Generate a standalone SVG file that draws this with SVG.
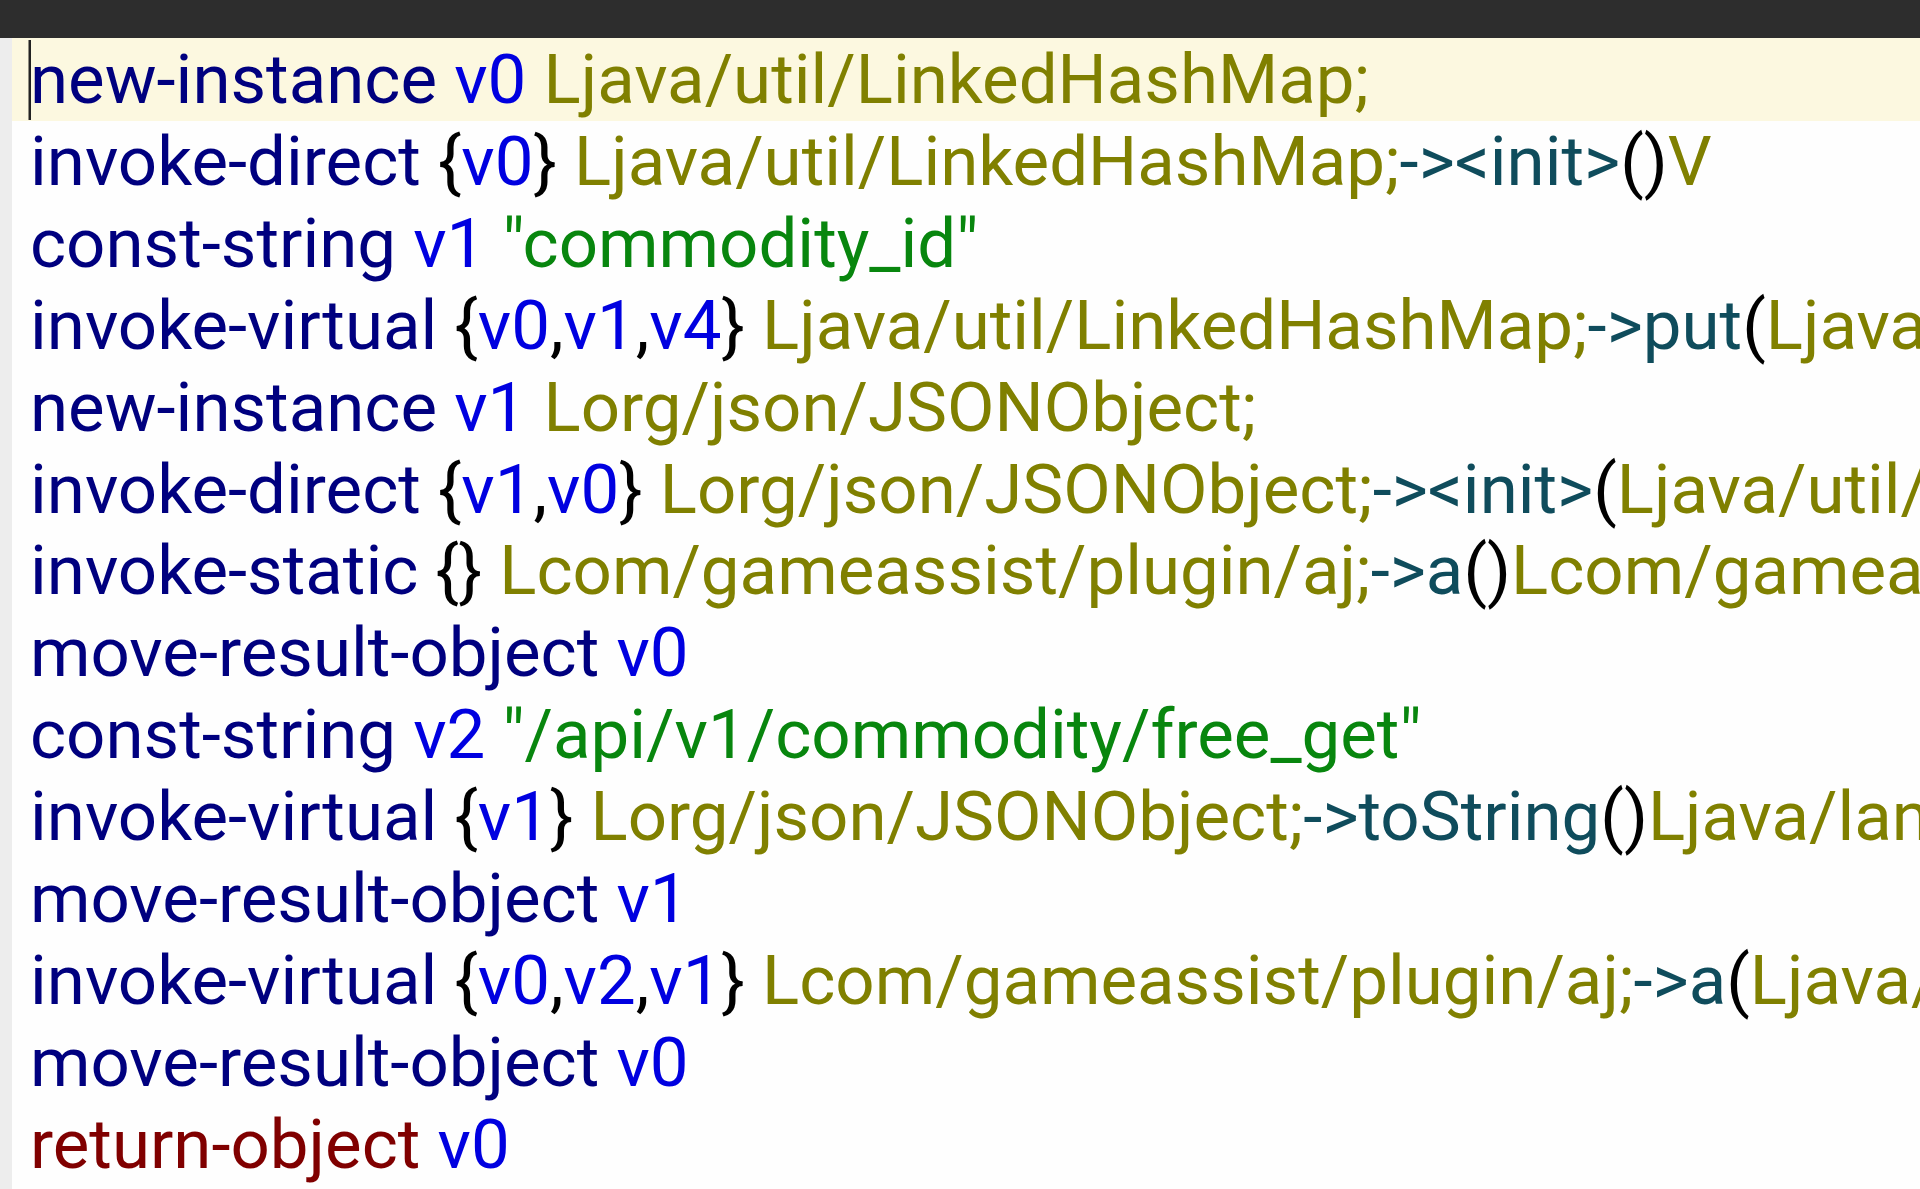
<svg xmlns="http://www.w3.org/2000/svg" width="1920" height="1189" viewBox="0 0 1920 1189">
<style>
text{font-family:Roboto,"Liberation Sans",sans-serif;font-size:69px;white-space:pre}
.k{fill:#00007f}
.r{fill:#0000e0}
.b{fill:#000000}
.c{fill:#808000}
.m{fill:#0f4c5c}
.s{fill:#08860e}
.x{fill:#800000}
</style>
<rect x="0" y="0" width="1920" height="1189" fill="#fefefe"/>
<rect x="0" y="0" width="1920" height="38" fill="#2d2d2d"/>
<rect x="0" y="38" width="12" height="1151" fill="#ededed"/>
<rect x="12" y="38" width="1908" height="83" fill="#fcf8e0"/>
<rect x="28.5" y="40" width="2.5" height="80" fill="#222222"/>
<g transform="translate(30 0)">
<text id="l1" x="0" y="103"><tspan class="k">new-instance</tspan> <tspan class="r">v0</tspan> <tspan class="c">Ljava/util/LinkedHashMap;</tspan></text>
<text id="l2" x="0" y="184.9"><tspan class="k">invoke-direct</tspan> <tspan class="b">{</tspan><tspan class="r">v0</tspan><tspan class="b">}</tspan> <tspan class="c">Ljava/util/LinkedHashMap;</tspan><tspan class="m">-&gt;&lt;init&gt;</tspan><tspan class="b">()</tspan><tspan class="c">V</tspan></text>
<text id="l3" x="0" y="266.8"><tspan class="k">const-string</tspan> <tspan class="r">v1</tspan> <tspan class="s">"commodity_id"</tspan></text>
<text id="l4" x="0" y="348.7"><tspan class="k">invoke-virtual</tspan> <tspan class="b">{</tspan><tspan class="r">v0</tspan><tspan class="b">,</tspan><tspan class="r">v1</tspan><tspan class="b">,</tspan><tspan class="r">v4</tspan><tspan class="b">}</tspan> <tspan class="c">Ljava/util/LinkedHashMap;</tspan><tspan class="m">-&gt;put</tspan><tspan class="b">(</tspan><tspan class="c">Ljava</tspan></text>
<text id="l5" x="0" y="430.6"><tspan class="k">new-instance</tspan> <tspan class="r">v1</tspan> <tspan class="c">Lorg/json/JSONObject;</tspan></text>
<text id="l6" x="0" y="512.5"><tspan class="k">invoke-direct</tspan> <tspan class="b">{</tspan><tspan class="r">v1</tspan><tspan class="b">,</tspan><tspan class="r">v0</tspan><tspan class="b">}</tspan> <tspan class="c">Lorg/json/JSONObject;</tspan><tspan class="m">-&gt;&lt;init&gt;</tspan><tspan class="b">(</tspan><tspan class="c">Ljava/util/</tspan></text>
<text id="l7" x="0" y="594.4"><tspan class="k">invoke-static</tspan> <tspan class="b">{}</tspan> <tspan class="c">Lcom/gameassist/plugin/aj;</tspan><tspan class="m">-&gt;a</tspan><tspan class="b">()</tspan><tspan class="c">Lcom/gamea</tspan></text>
<text id="l8" x="0" y="676.3"><tspan class="k">move-result-object</tspan> <tspan class="r">v0</tspan></text>
<text id="l9" x="0" y="758.2"><tspan class="k">const-string</tspan> <tspan class="r">v2</tspan> <tspan class="s">"/api/v1/commodity/free_get"</tspan></text>
<text id="l10" x="0" y="840.1"><tspan class="k">invoke-virtual</tspan> <tspan class="b">{</tspan><tspan class="r">v1</tspan><tspan class="b">}</tspan> <tspan class="c">Lorg/json/JSONObject;</tspan><tspan class="m">-&gt;toString</tspan><tspan class="b">()</tspan><tspan class="c">Ljava/lan</tspan></text>
<text id="l11" x="0" y="922"><tspan class="k">move-result-object</tspan> <tspan class="r">v1</tspan></text>
<text id="l12" x="0" y="1003.9"><tspan class="k">invoke-virtual</tspan> <tspan class="b">{</tspan><tspan class="r">v0</tspan><tspan class="b">,</tspan><tspan class="r">v2</tspan><tspan class="b">,</tspan><tspan class="r">v1</tspan><tspan class="b">}</tspan> <tspan class="c">Lcom/gameassist/plugin/aj;</tspan><tspan class="m">-&gt;a</tspan><tspan class="b">(</tspan><tspan class="c">Ljava/</tspan></text>
<text id="l13" x="0" y="1085.8"><tspan class="k">move-result-object</tspan> <tspan class="r">v0</tspan></text>
<text id="l14" x="0" y="1167.7"><tspan class="x">return-object</tspan> <tspan class="r">v0</tspan></text>
</g>
</svg>
